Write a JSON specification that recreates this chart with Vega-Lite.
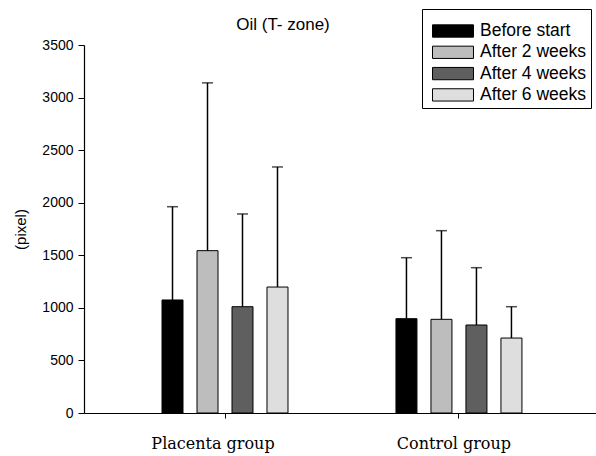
{
  "$schema": "https://vega.github.io/schema/vega-lite/v6.json",
  "autosize": "none",
  "width": 512,
  "height": 368,
  "padding": {"left": 84, "top": 45, "right": 0, "bottom": 43},
  "background": "white",
  "title": {"text": "Oil (T- zone)", "frame": "group", "font": "Liberation Sans", "fontSize": 17, "fontWeight": "normal", "anchor": "middle", "dx": -57, "dy": 52, "baseline": "alphabetic", "offset": 14, "color": "black"},
  "config": {"view": {"stroke": null}},
  "data": {"values": [
    {"group": "Placenta group", "period": "Before start", "value": 1075, "upper": 1962},
    {"group": "Placenta group", "period": "After 2 weeks", "value": 1544, "upper": 3140},
    {"group": "Placenta group", "period": "After 4 weeks", "value": 1011, "upper": 1893},
    {"group": "Placenta group", "period": "After 6 weeks", "value": 1198, "upper": 2340},
    {"group": "Control group", "period": "Before start", "value": 897, "upper": 1477},
    {"group": "Control group", "period": "After 2 weeks", "value": 891, "upper": 1734},
    {"group": "Control group", "period": "After 4 weeks", "value": 837, "upper": 1382},
    {"group": "Control group", "period": "After 6 weeks", "value": 713, "upper": 1011}
  ]},
  "encoding": {
    "x": {"field": "group", "type": "nominal", "sort": ["Placenta group", "Control group"],
      "scale": {"paddingInner": 0.4615, "paddingOuter": 0.325, "align": 0.513},
      "axis": {"title": null, "labelAngle": 0, "labelFont": "DejaVu Serif", "labelFontSize": 16, "labelColor": "black", "labelPadding": 17,
        "labelOffset": {"condition": {"test": "datum.value == 'Placenta group'", "value": -12}, "value": -5},
        "tickSize": 5, "tickColor": "black", "domainColor": "black", "domainWidth": 1.2, "grid": false}},
    "xOffset": {"field": "period", "type": "nominal", "sort": ["Before start", "After 2 weeks", "After 4 weeks", "After 6 weeks"],
      "scale": {"paddingInner": 0.4, "paddingOuter": 0}}
  },
  "layer": [
    {
      "mark": {"type": "rule", "color": "black", "strokeWidth": 1.5},
      "encoding": {
        "y": {"field": "value", "type": "quantitative"},
        "y2": {"field": "upper"}
      }
    },
    {
      "mark": {"type": "tick", "color": "black", "size": 11, "thickness": 1.5},
      "encoding": {
        "y": {"field": "upper", "type": "quantitative"}
      }
    },
    {
      "mark": {"type": "bar", "stroke": "black", "strokeWidth": 1},
      "encoding": {
        "y": {"field": "value", "type": "quantitative", "scale": {"domain": [0, 3500], "nice": false},
          "axis": {"title": "(pixel)", "values": [0, 500, 1000, 1500, 2000, 2500, 3000, 3500], "format": "d", "grid": false,
            "labelFont": "Liberation Sans", "labelFontSize": 14, "labelColor": "black", "labelPadding": 5,
            "tickSize": 6, "tickColor": "black", "domainColor": "black", "domainWidth": 1.2,
            "titleFont": "Liberation Sans", "titleFontSize": 15, "titleFontWeight": "normal", "titleColor": "black",
            "titleX": -64, "titleY": 184, "titleAngle": -90, "titleAlign": "center", "titleBaseline": "middle"}},
        "fill": {"field": "period", "type": "nominal", "sort": ["Before start", "After 2 weeks", "After 4 weeks", "After 6 weeks"],
          "scale": {"domain": ["Before start", "After 2 weeks", "After 4 weeks", "After 6 weeks"], "range": ["#000000", "#bdbdbd", "#5f5f5f", "#dedede"]},
          "legend": {"title": " ", "titleFontSize": 4, "titlePadding": 3, "orient": "none", "legendX": 338, "legendY": -36,
            "symbolType": "M-2,-0.6H2V0.6H-2Z", "symbolSize": 420, "symbolOffset": 16, "symbolStrokeColor": "black", "symbolStrokeWidth": 1, "symbolOpacity": 1,
            "labelFont": "Liberation Sans", "labelFontSize": 17.5, "labelColor": "black", "labelOffset": 16,
            "strokeColor": "black", "padding": 4, "rowPadding": 1.3, "fillColor": "white"}}
      }
    }
  ]
}
